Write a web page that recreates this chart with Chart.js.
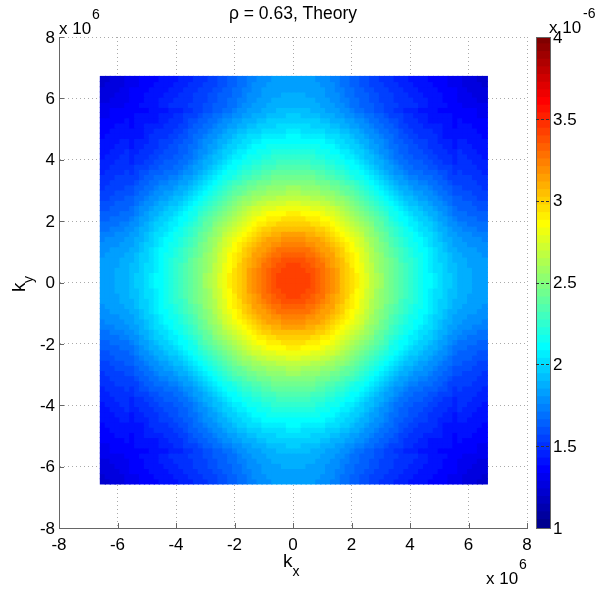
<!DOCTYPE html>
<html>
<head>
<meta charset="utf-8">
<title>Theory</title>
<script src="https://cdn.jsdelivr.net/npm/chart.js@4/dist/chart.umd.min.js"></script>
<style>
    body{margin:0;background:#fff;}
    #wrap{position:relative;width:596px;height:591px;}
    canvas{position:absolute;left:0;top:0;}
</style>
</head>
<body>
<div id="wrap">
    <canvas id="mapChart" width="596" height="591"></canvas>
    <canvas id="barChart" width="596" height="591"></canvas>
</div>
<script>
const titleText = 'ρ = 0.63, Theory';
const axisTicks = [-8,-6,-4,-2,0,2,4,6,8];
const colorTicks = [1,1.5,2,2.5,3,3.5,4];

// grid, k in units of 1e6, values in units of 1e-6
// one octant only, row = larger of |kx|,|ky| index, the picture has the symmetry
const xCenter = 0.03, xPitch = 0.1674;
const yCenter = 0.075, yPitch = 0.1681;
const octantRows = [
    [3.43],
    [3.43,3.43],
    [3.42,3.42,3.40],
    [3.40,3.40,3.38,3.36],
    [3.37,3.37,3.35,3.33,3.30],
    [3.33,3.33,3.31,3.29,3.27,3.23],
    [3.28,3.28,3.27,3.25,3.22,3.19,3.15],
    [3.23,3.23,3.22,3.20,3.18,3.15,3.12,3.08],
    [3.18,3.18,3.17,3.15,3.14,3.11,3.08,3.04,3.00],
    [3.12,3.12,3.11,3.10,3.08,3.06,3.03,3.00,2.96,2.92],
    [3.06,3.06,3.05,3.04,3.02,3.00,2.97,2.94,2.91,2.87,2.82],
    [3.00,3.00,2.99,2.98,2.96,2.94,2.92,2.89,2.86,2.82,2.78,2.73],
    [2.94,2.94,2.93,2.92,2.91,2.89,2.86,2.83,2.80,2.77,2.72,2.68,2.63],
    [2.88,2.88,2.87,2.86,2.85,2.83,2.81,2.78,2.75,2.71,2.67,2.63,2.58,2.53],
    [2.81,2.81,2.80,2.79,2.78,2.76,2.74,2.72,2.69,2.65,2.62,2.58,2.53,2.48,2.43],
    [2.74,2.74,2.73,2.72,2.71,2.69,2.67,2.65,2.62,2.59,2.56,2.52,2.48,2.43,2.38,2.33],
    [2.67,2.67,2.66,2.65,2.64,2.63,2.61,2.59,2.56,2.53,2.50,2.46,2.42,2.38,2.33,2.28,2.23],
    [2.60,2.60,2.59,2.59,2.57,2.56,2.54,2.52,2.50,2.47,2.44,2.40,2.37,2.33,2.28,2.23,2.18,2.13],
    [2.55,2.55,2.54,2.54,2.52,2.51,2.49,2.47,2.45,2.42,2.39,2.36,2.32,2.28,2.24,2.20,2.15,2.10,2.04],
    [2.49,2.49,2.48,2.48,2.46,2.45,2.43,2.41,2.39,2.37,2.34,2.30,2.27,2.23,2.19,2.14,2.10,2.05,2.00,1.95],
    [2.43,2.43,2.42,2.42,2.41,2.39,2.38,2.35,2.33,2.30,2.27,2.24,2.21,2.17,2.13,2.09,2.04,2.00,1.95,1.91,1.87],
    [2.38,2.38,2.37,2.37,2.36,2.34,2.33,2.31,2.28,2.26,2.23,2.19,2.16,2.13,2.09,2.05,2.00,1.96,1.91,1.87,1.83,1.79],
    [2.33,2.33,2.32,2.32,2.31,2.29,2.28,2.26,2.24,2.21,2.18,2.15,2.12,2.08,2.05,2.01,1.96,1.92,1.88,1.84,1.80,1.76,1.72],
    [2.28,2.28,2.27,2.27,2.26,2.25,2.23,2.21,2.19,2.17,2.14,2.11,2.08,2.04,2.01,1.97,1.93,1.89,1.85,1.80,1.76,1.72,1.69,1.67],
    [2.24,2.24,2.23,2.23,2.22,2.21,2.19,2.17,2.15,2.13,2.10,2.07,2.04,2.01,1.97,1.93,1.90,1.86,1.82,1.78,1.74,1.70,1.67,1.64,1.62],
    [2.20,2.20,2.19,2.19,2.18,2.17,2.16,2.14,2.12,2.09,2.06,2.04,2.00,1.97,1.94,1.90,1.87,1.83,1.79,1.75,1.72,1.68,1.65,1.62,1.60,1.58],
    [2.16,2.16,2.15,2.15,2.14,2.13,2.12,2.10,2.08,2.06,2.03,2.00,1.97,1.94,1.91,1.88,1.84,1.81,1.78,1.74,1.70,1.67,1.64,1.61,1.59,1.57,1.55],
    [2.12,2.12,2.11,2.11,2.10,2.09,2.08,2.06,2.04,2.02,2.00,1.97,1.94,1.91,1.88,1.85,1.82,1.78,1.75,1.72,1.68,1.65,1.62,1.59,1.57,1.55,1.53,1.52],
    [2.08,2.08,2.07,2.07,2.06,2.05,2.04,2.02,2.01,1.99,1.96,1.94,1.91,1.88,1.85,1.82,1.79,1.76,1.73,1.69,1.66,1.63,1.60,1.58,1.55,1.53,1.51,1.50,1.49],
    [2.04,2.04,2.03,2.03,2.02,2.01,2.00,1.98,1.97,1.95,1.92,1.90,1.87,1.85,1.82,1.79,1.76,1.73,1.70,1.67,1.64,1.61,1.58,1.55,1.53,1.51,1.49,1.48,1.47,1.46],
    [2.00,2.00,1.99,1.99,1.98,1.97,1.96,1.95,1.93,1.91,1.89,1.86,1.84,1.81,1.79,1.76,1.73,1.70,1.67,1.64,1.62,1.59,1.56,1.54,1.51,1.49,1.48,1.46,1.45,1.44,1.43],
    [1.97,1.97,1.96,1.96,1.95,1.94,1.92,1.91,1.89,1.87,1.85,1.83,1.80,1.78,1.75,1.72,1.70,1.67,1.65,1.62,1.59,1.57,1.54,1.51,1.49,1.47,1.45,1.44,1.42,1.41,1.41,1.40],
    [1.94,1.94,1.93,1.93,1.92,1.91,1.89,1.88,1.86,1.83,1.81,1.79,1.76,1.74,1.71,1.69,1.66,1.63,1.61,1.58,1.56,1.54,1.52,1.50,1.48,1.46,1.44,1.43,1.41,1.40,1.39,1.38,1.38],
    [1.91,1.91,1.90,1.90,1.88,1.87,1.86,1.84,1.82,1.80,1.77,1.75,1.72,1.70,1.67,1.65,1.62,1.60,1.57,1.55,1.53,1.51,1.48,1.46,1.45,1.43,1.41,1.40,1.39,1.38,1.37,1.36,1.35,1.35],
    [1.89,1.89,1.88,1.88,1.87,1.85,1.84,1.82,1.80,1.78,1.75,1.73,1.70,1.68,1.65,1.63,1.61,1.59,1.57,1.56,1.54,1.52,1.51,1.49,1.48,1.47,1.45,1.44,1.42,1.41,1.40,1.38,1.36,1.35,1.33],
    [1.87,1.87,1.86,1.86,1.85,1.84,1.82,1.80,1.78,1.76,1.74,1.71,1.69,1.66,1.64,1.62,1.60,1.58,1.56,1.55,1.53,1.51,1.50,1.48,1.47,1.46,1.44,1.43,1.41,1.40,1.39,1.37,1.36,1.34,1.32,1.31],
    [1.85,1.85,1.85,1.84,1.83,1.82,1.81,1.79,1.77,1.75,1.72,1.70,1.67,1.65,1.63,1.61,1.59,1.57,1.55,1.53,1.52,1.50,1.49,1.47,1.46,1.45,1.43,1.42,1.41,1.39,1.38,1.37,1.35,1.34,1.32,1.31,1.29],
    [1.84,1.84,1.84,1.83,1.82,1.81,1.80,1.78,1.76,1.74,1.71,1.69,1.66,1.64,1.61,1.59,1.57,1.55,1.54,1.52,1.50,1.49,1.47,1.46,1.44,1.43,1.42,1.41,1.39,1.38,1.37,1.35,1.34,1.33,1.31,1.30,1.28,1.27],
    [1.83,1.83,1.83,1.82,1.81,1.80,1.79,1.77,1.75,1.73,1.70,1.67,1.65,1.62,1.60,1.58,1.56,1.54,1.52,1.51,1.49,1.47,1.46,1.44,1.43,1.41,1.40,1.39,1.38,1.36,1.35,1.34,1.32,1.31,1.30,1.28,1.27,1.26,1.24],
    [1.82,1.82,1.82,1.81,1.80,1.79,1.78,1.76,1.74,1.72,1.69,1.66,1.64,1.61,1.59,1.57,1.55,1.53,1.51,1.50,1.48,1.46,1.45,1.43,1.42,1.40,1.39,1.38,1.37,1.35,1.34,1.33,1.31,1.30,1.29,1.27,1.26,1.25,1.23,1.22]
];

const colorMin = 1, colorMax = 4, colorLevels = 64;
const fontName = '"Liberation Sans", Arial, sans-serif';
const axisGrey = '#666666';

//matlab jet, 64 levels
function jetLevel(i){
    const u = [];
    for (let k=1;k<=16;k++) u.push(k/16);
    for (let k=0;k<15;k++) u.push(1);
    for (let k=16;k>=1;k--) u.push(k/16);
    const pick = off => { const k=i-off; return (k>=0 && k<u.length) ? u[k] : 0; };
    return `rgb(${Math.round(pick(25)*255)},${Math.round(pick(9)*255)},${Math.round(pick(-7)*255)})`;
}
function jetColor(v){
    let idx = Math.floor((v-colorMin)/(colorMax-colorMin)*colorLevels);
    idx = Math.max(0,Math.min(colorLevels-1,idx));
    return jetLevel(idx+1);
}

//unfold the octant in the four quadrants
const n = octantRows.length-1;
const cells = [], cellColors = [];
for (let r=-n;r<=n;r++){
    for (let c=-n;c<=n;c++){
        const a=Math.abs(r), b=Math.abs(c);
        const v = octantRows[Math.max(a,b)][Math.min(a,b)];
        cells.push({x:xCenter+c*xPitch, y:yCenter+r*yPitch});
        cellColors.push(jetColor(v));
    }
}

//texts chart.js has no option for (exponents and subscripts)
const noteTexts = [
    {text:'x 10',x:59,y:34,size:17},
    {text:'6',x:92,y:19,size:14},
    {text:'x 10',x:486,y:584,size:17},
    {text:'6',x:519,y:569,size:14},
    {text:'x 10',x:549,y:33,size:17},
    {text:'-6',x:583,y:18,size:14},
    {text:'k',x:283,y:567,size:19},
    {text:'x',x:292.5,y:576,size:14},
    {text:'k',x:25,y:292,size:19,rot:-Math.PI/2},
    {text:'y',x:33,y:283,size:14,rot:-Math.PI/2}
];
const notesPlugin = {
    id:'notes',
    afterDraw(chart){
        const ctx = chart.ctx;
        ctx.save();
        ctx.fillStyle='#000';
        ctx.textAlign='left';
        ctx.textBaseline='alphabetic';
        noteTexts.forEach(t=>{
            ctx.save();
            ctx.translate(t.x,t.y);
            if (t.rot) ctx.rotate(t.rot);
            ctx.font=`${t.size}px ${fontName}`;
            ctx.fillText(t.text,0,0);
            ctx.restore();
        });
        ctx.restore();
    }
};

//inward tick marks, as matlab does on the left and bottom
const tickPlugin = {
    id:'inTicks',
    afterDatasetsDraw(chart){
        const {ctx,chartArea,scales} = chart;
        ctx.save();
        ctx.strokeStyle=axisGrey;
        ctx.lineWidth=1;
        ctx.beginPath();
        axisTicks.forEach(t=>{
            const px=Math.round(scales.x.getPixelForValue(t))+0.5;
            ctx.moveTo(px,chartArea.bottom);
            ctx.lineTo(px,chartArea.bottom-5);
            const py=Math.round(scales.y.getPixelForValue(t))+0.5;
            ctx.moveTo(chartArea.left,py);
            ctx.lineTo(chartArea.left+5,py);
        });
        ctx.stroke();
        ctx.restore();
    }
};

new Chart(document.getElementById('mapChart').getContext('2d'),{
    type:'scatter',
    data:{datasets:[{
        data:cells,
        pointStyle:'rect',
        //a bit bigger than the pitch, else white shows between the cells
        pointRadius:4.4,
        pointBorderWidth:0,
        pointHoverRadius:4.4,
        backgroundColor:cellColors,
        borderColor:cellColors
    }]},
    plugins:[tickPlugin],
    options:{
        responsive:false,
        animation:false,
        events:[],
        layout:{autoPadding:false,padding:{top:0,left:0,right:69,bottom:0}},
        plugins:{
            legend:{display:false},
            tooltip:{enabled:false},
            title:{
                display:true,
                text:titleText,
                fullSize:false,
                color:'#000',
                font:{family:fontName,size:17.5,weight:'normal',lineHeight:1.2},
                padding:{top:4,bottom:12}
            }
        },
        scales:{
            x:{
                type:'linear',min:-8,max:8,
                afterBuildTicks:s=>{s.ticks=axisTicks.map(v=>({value:v}));},
                afterFit:s=>{s.height=63;},
                grid:{color:'#aaaaaa',lineWidth:1,drawTicks:false},
                border:{display:true,color:axisGrey,width:1,dash:[1,3]},
                ticks:{color:'#000',font:{family:fontName,size:17},padding:7,maxRotation:0,autoSkip:false,callback:v=>String(v)}
            },
            y:{
                type:'linear',min:-8,max:8,
                afterBuildTicks:s=>{s.ticks=axisTicks.map(v=>({value:v}));},
                afterFit:s=>{s.width=59;},
                grid:{color:'#aaaaaa',lineWidth:1,drawTicks:false},
                border:{display:true,color:axisGrey,width:1,dash:[1,3]},
                ticks:{color:'#000',font:{family:fontName,size:17},padding:4,labelOffset:1,autoSkip:false,callback:v=>String(v)}
            }
        }
    }
});

//the colour bar, one bar per colormap level
const levelSize = (colorMax-colorMin)/colorLevels;
const barSets = [];
for (let i=0;i<colorLevels;i++){
    const lo = colorMin+i*levelSize;
    barSets.push({
        data:[[lo,Math.min(colorMax,lo+levelSize+0.006)]],
        backgroundColor:jetLevel(i+1),
        borderWidth:0,
        barPercentage:1,
        categoryPercentage:1
    });
}
const barFrame = {
    id:'barFrame',
    afterDatasetsDraw(chart){
        const {ctx,chartArea,scales} = chart;
        ctx.save();
        ctx.strokeStyle=axisGrey;
        ctx.lineWidth=1;
        ctx.strokeRect(chartArea.left+0.5,chartArea.top+0.5,chartArea.width-1,chartArea.height);
        ctx.strokeStyle='#333';
        ctx.setLineDash([3,2]);
        ctx.beginPath();
        colorTicks.slice(1,-1).forEach(t=>{
            const py=Math.round(scales.y.getPixelForValue(t))+0.5;
            ctx.moveTo(chartArea.left,py);
            ctx.lineTo(chartArea.right,py);
        });
        ctx.stroke();
        ctx.restore();
    }
};
new Chart(document.getElementById('barChart').getContext('2d'),{
    type:'bar',
    data:{labels:[''],datasets:barSets},
    plugins:[barFrame,notesPlugin],
    options:{
        responsive:false,
        animation:false,
        events:[],
        layout:{autoPadding:false,padding:{top:37,left:536,right:0,bottom:63}},
        plugins:{legend:{display:false},tooltip:{enabled:false}},
        scales:{
            x:{display:false,stacked:true,grid:{display:false}},
            y:{
                type:'linear',position:'right',min:colorMin,max:colorMax,
                afterBuildTicks:s=>{s.ticks=colorTicks.map(v=>({value:v}));},
                afterFit:s=>{s.width=45;},
                grid:{display:false,drawTicks:false},
                border:{display:false},
                ticks:{color:'#000',font:{family:fontName,size:17},padding:2,labelOffset:1,autoSkip:false,callback:v=>String(v)}
            }
        }
    }
});
</script>
</body>
</html>
